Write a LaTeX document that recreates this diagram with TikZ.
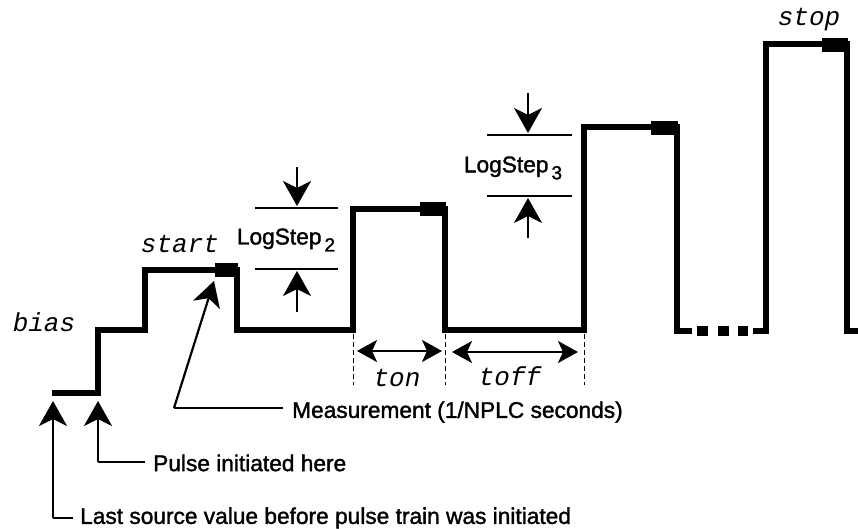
\documentclass[tikz,border=0pt]{standalone}
\usepackage{fontspec}
\setmainfont{Liberation Sans}
\setmonofont{Liberation Mono}
\newfontfamily\heavysans{Liberation Sans}[FakeBold=1.5]
\usetikzlibrary{arrows.meta}
\begin{document}
\begin{tikzpicture}[x=1pt,y=-1pt,
  wave/.style={line width=5.5pt,line join=miter,line cap=butt},
  blk/.style={fill=black},
  thinline/.style={line width=1.5pt},
  bigarrow/.style={line width=2.2pt,-{Stealth[length=25pt,width=28pt,inset=7pt]}},
  dblarrow/.style={line width=2.2pt,{Stealth[length=20pt,width=22pt,inset=5pt]}-{Stealth[length=20pt,width=22pt,inset=5pt]}},
  dashmark/.style={line width=1pt,dash pattern=on 5pt off 3pt},
  lbl/.style={font=\fontsize{26}{26}\selectfont\ttfamily\itshape,inner sep=0pt},
  txt/.style={font=\heavysans\fontsize{22.7}{22.7}\selectfont,inner sep=0pt},
  ]
\useasboundingbox (0,0) rectangle (858,529);
% waveform
\draw[wave] (52,393) -- (98,393) -- (98,330) -- (145,330) -- (145,270) -- (237,270) -- (237,330) -- (353,330) -- (353,209) -- (445,209) -- (445,330) -- (584,330) -- (584,127) -- (677,127) -- (677,331) -- (692,331);
\fill (697,326) rectangle (708,336);
\fill (718,326) rectangle (729,336);
\fill (738,326) rectangle (748,336);
\draw[wave] (753,331) -- (766,331) -- (766,44) -- (847,44) -- (847,331) -- (862,331);
% measurement blocks
\fill[blk] (215,263) rectangle (238,277);
\fill[blk] (420,202) rectangle (446,216);
\fill[blk] (651,121) rectangle (678,135);
\fill[blk] (822,38) rectangle (848,52);
% labels
\node[lbl] (bias) at (44,322) {bias};
\node[lbl] (start) at (180,244) {start};
\node[lbl] (stop) at (809,20) {stop};
\node[lbl] (ton) at (397,378) {ton};
\node[lbl] (toff) at (510,376) {toff};
% dashed markers
\coordinate (d1t) at (353,334); \coordinate (d1b) at (353,385);
\coordinate (d2t) at (445,334); \coordinate (d2b) at (445,385);
\coordinate (d3t) at (584,334); \coordinate (d3b) at (584,385);
\draw[dashmark] (d1t) -- (d1b);
\draw[dashmark] (d2t) -- (d2b);
\draw[dashmark] (d3t) -- (d3b);
\coordinate (a1l) at (357,351); \coordinate (a1r) at (442,351);
\coordinate (a2l) at (452,352); \coordinate (a2r) at (578,352);
\draw[dblarrow] (a1l) -- (a1r);
\draw[dblarrow] (a2l) -- (a2r);
% LogStep 2
\coordinate (l2a) at (255,208); \coordinate (l2b) at (338,208);
\coordinate (l2c) at (255,269); \coordinate (l2d) at (338,269);
\draw[thinline] (l2a) -- (l2b);
\draw[thinline] (l2c) -- (l2d);
\coordinate (l2s1) at (297,167); \coordinate (l2e1) at (297,206);
\coordinate (l2s2) at (297,312); \coordinate (l2e2) at (297,271);
\draw[bigarrow] (l2s1) -- (l2e1);
\draw[bigarrow] (l2s2) -- (l2e2);
\node[txt] (ls2) at (286,240) {LogStep\hspace{3pt}\raisebox{-7pt}{\fontsize{19}{19}\selectfont 2}};
% LogStep 3
\coordinate (l3a) at (487,135); \coordinate (l3b) at (572,135);
\coordinate (l3c) at (487,196); \coordinate (l3d) at (572,196);
\draw[thinline] (l3a) -- (l3b);
\draw[thinline] (l3c) -- (l3d);
\coordinate (l3s1) at (528,93); \coordinate (l3e1) at (528,133);
\coordinate (l3s2) at (528,238); \coordinate (l3e2) at (528,198);
\draw[bigarrow] (l3s1) -- (l3e1);
\draw[bigarrow] (l3s2) -- (l3e2);
\node[txt] (ls3) at (513,168) {LogStep\hspace{3pt}\raisebox{-7pt}{\fontsize{19}{19}\selectfont 3}};
% annotations
\node[txt,anchor=west] (meas) at (292,412) {Measurement (1/NPLC seconds)};
\node[txt,anchor=west] (pulse) at (153,463) {Pulse initiated here};
\node[txt,anchor=west] (last) at (80,518) {Last source value before pulse train was initiated};
\coordinate (mtip) at (214,281);
\coordinate (mc) at (174,408);
\coordinate (me) at (283,408);
\draw[line width=2.2pt] (me) -- (mc);
\draw[bigarrow] (mc) -- (mtip);
\coordinate (ptip) at (98,401);
\coordinate (pc) at (98,462);
\coordinate (pe) at (145,462);
\draw[line width=2.2pt] (pe) -- (pc);
\draw[bigarrow] (pc) -- (ptip);
\coordinate (ltip) at (53,401);
\coordinate (lc) at (53,518);
\coordinate (le) at (73,518);
\draw[line width=2.2pt] (le) -- (lc);
\draw[bigarrow] (lc) -- (ltip);
\end{tikzpicture}
\end{document}
